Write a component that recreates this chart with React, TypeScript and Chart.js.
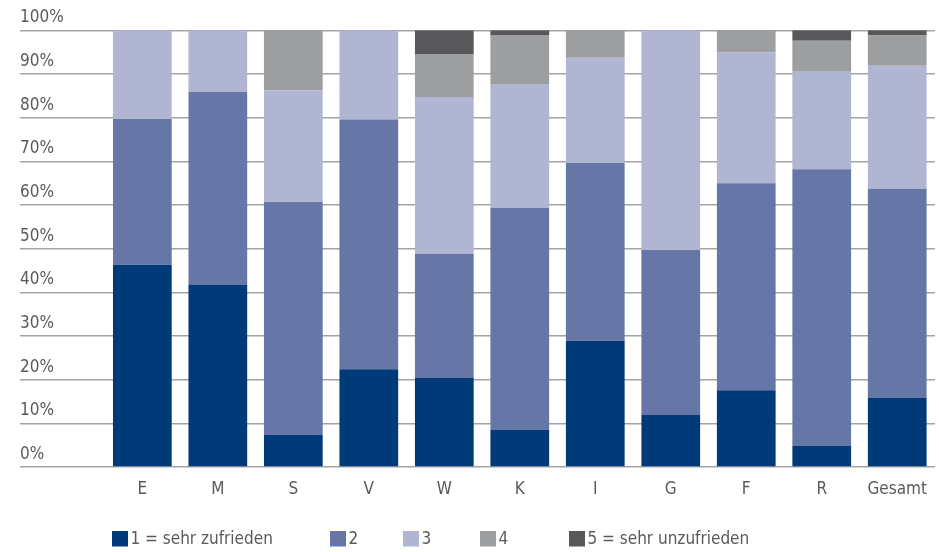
import React, { useEffect, useRef } from "react";
import { Chart, registerables } from "chart.js";

Chart.register(...registerables);

const categories = ["E", "M", "S", "V", "W", "K", "I", "G", "F", "R", "Gesamt"];
const seriesLabels = ["1 = sehr zufrieden", "2", "3", "4", "5 = sehr unzufrieden"];

const s1 = [46.3, 41.7, 7.3, 22.4, 20.4, 8.5, 28.9, 11.9, 17.6, 4.8, 15.8];
const s2 = [33.4, 44.2, 53.4, 57.2, 28.4, 50.8, 40.7, 37.8, 47.4, 63.4, 47.9];
const s3 = [20.3, 14.1, 25.6, 20.4, 35.9, 28.4, 24.1, 50.3, 29.9, 22.3, 28.2];
const s4 = [0, 0, 13.7, 0, 9.9, 11.2, 6.3, 0, 5.1, 7.1, 6.9];
const s5 = [0, 0, 0, 0, 5.4, 1.1, 0, 0, 0, 2.4, 1.2];

const yMin = 0;
const yMax = 100;
const yStep = 10;

const COLORS = ["#003a78", "#6676a6", "#b0b5d2", "#9d9ea0", "#58585a"];
const TEXT = "#5a5a5a";
const GRID = "#a3a3a3";
const FONT = '"Liberation Sans Narrow", "DejaVu Sans Condensed", "Roboto Condensed", "Arial Narrow", sans-serif';
const FONT_SIZE = 17;
const LEGEND_X = [112, 330, 403, 480, 569];

const legendPlugin = {
  id: "fixedLegend",
  afterDraw(chart: any) {
    const ctx = chart.ctx as CanvasRenderingContext2D;
    ctx.save();
    ctx.font = `${FONT_SIZE}px ${FONT}`;
    ctx.textBaseline = "middle";
    ctx.textAlign = "left";
    chart.data.datasets.forEach((ds: any, i: number) => {
      const x = LEGEND_X[i];
      ctx.fillStyle = ds.backgroundColor;
      ctx.fillRect(x, 531, 16, 15.5);
      ctx.fillStyle = TEXT;
      ctx.fillText(ds.label, x + 18.5, 539.5);
    });
    ctx.restore();
  },
};

export default function App() {
  const ref = useRef<HTMLCanvasElement | null>(null);

  useEffect(() => {
    if (!ref.current) return;
    const series = [s1, s2, s3, s4, s5];
    const chart = new Chart(ref.current, {
      type: "bar",
      data: {
        labels: categories,
        datasets: series.map((d, i) => ({
          label: seriesLabels[i],
          data: d,
          backgroundColor: COLORS[i],
          borderWidth: 0,
          barPercentage: 0.778,
          categoryPercentage: 1,
        })),
      },
      options: {
        animation: false,
        responsive: true,
        maintainAspectRatio: false,
        layout: { padding: { left: 20, top: 30.3, right: 0.6, bottom: 0 } },
        plugins: {
          legend: { display: false },
          tooltip: { enabled: false },
          title: { display: false },
        },
        scales: {
          x: {
            stacked: true,
            grid: { display: false, drawTicks: false },
            border: { display: false },
            ticks: {
              color: TEXT,
              font: { family: FONT, size: FONT_SIZE },
              padding: 12,
              maxRotation: 0,
              autoSkip: false,
            },
            afterFit: (scale: any) => {
              scale.height = 85;
            },
          },
          y: {
            stacked: true,
            min: yMin,
            max: yMax,
            grid: {
              color: GRID,
              lineWidth: 1.5,
              drawTicks: true,
              tickLength: 84.6,
            },
            border: { display: false },
            ticks: {
              stepSize: yStep,
              color: TEXT,
              font: { family: FONT, size: FONT_SIZE },
              crossAlign: "far",
              padding: 0,
              labelOffset: -12.5,
              callback: (v: any) => `${v}%`,
            },
            afterFit: (scale: any) => {
              scale.width = 84.6;
            },
          },
        },
      },
      plugins: [legendPlugin],
    });
    return () => chart.destroy();
  }, []);

  return (
    <div style={{ position: "absolute", left: 0, top: 0, width: 939, height: 552 }}>
      <canvas ref={ref} />
    </div>
  );
}
